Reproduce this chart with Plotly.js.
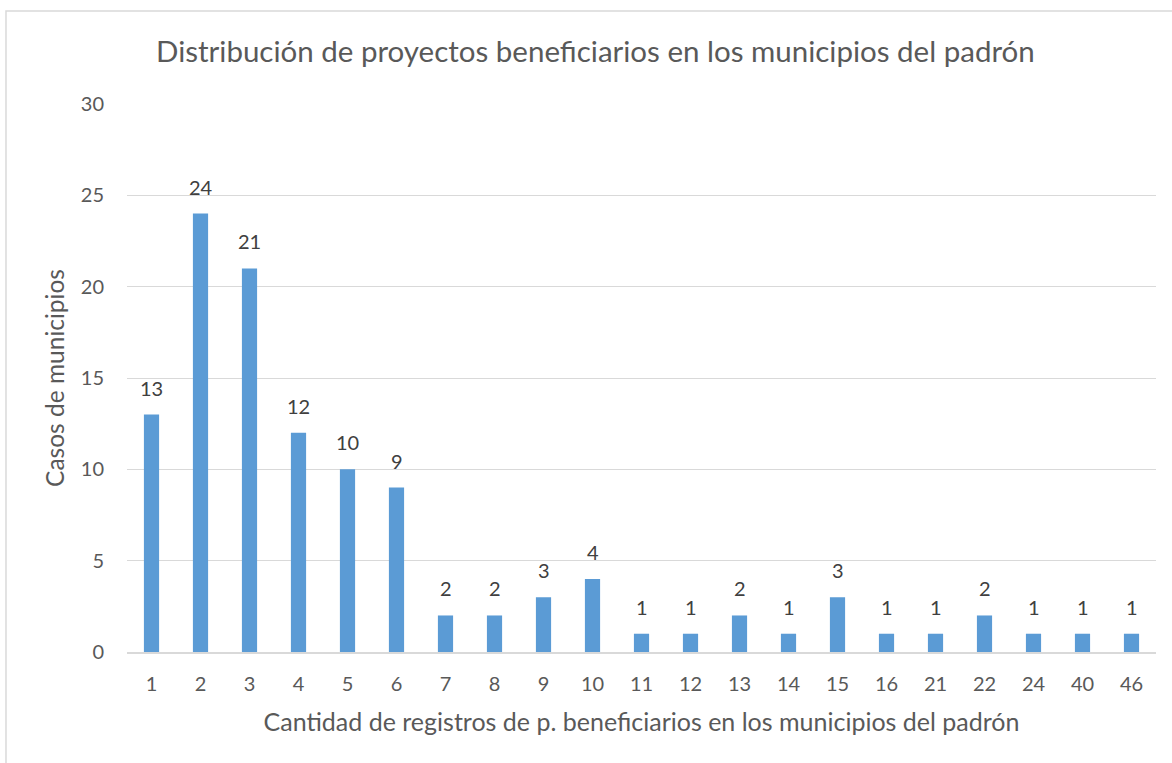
<!DOCTYPE html>
<html>
<head>
<meta charset="utf-8">
<script src="https://cdn.plot.ly/plotly-3.0.1.min.js"></script>
<style>
  html, body { margin: 0; padding: 0; background: #fff; }
  #chart { width: 1172px; height: 763px; }
</style>
</head>
<body>
<div id="chart"></div>
<script>
const registros = ['1', '2', '3', '4', '5', '6', '7', '8', '9', '10', '11', '12', '13', '14', '15', '16', '21', '22', '24', '40', '46'];
const casos = [13, 24, 21, 12, 10, 9, 2, 2, 3, 4, 1, 1, 2, 1, 3, 1, 1, 2, 1, 1, 1];

const FONT = 'Lato, Open Sans, sans-serif';

const trace = {
    x: registros,
    y: casos,
    type: 'bar',
    width: 0.31,
    marker: { color: '#5b9bd5' },
    hoverinfo: 'x+y'
};

// value labels sit a bit higher above the bars than plotly's outside text
// (x given as category index, numeric strings would be read as positions)
const labels = casos.map((v, i) => ({
    x: i,
    y: v,
    xref: 'x',
    yref: 'y',
    text: String(v),
    showarrow: false,
    yanchor: 'middle',
    yshift: 27,
    font: { family: FONT, size: 20, color: '#404040' }
}));

const layout = {
    width: 1172,
    height: 763,
    margin: { l: 127, r: 16, t: 104, b: 111 },
    paper_bgcolor: '#fff',
    plot_bgcolor: '#fff',
    showlegend: false,
    font: { family: FONT, color: '#595959' },
    title: {
        text: 'Distribución de proyectos beneficiarios en los municipios del padrón',
        font: { size: 29.5, color: '#595959' },
        xref: 'container',
        x: 0.508,
        xanchor: 'center',
        yref: 'container',
        y: 0.932,
        yanchor: 'middle'
    },
    xaxis: {
        type: 'category',
        range: [-0.5, registros.length - 0.5],
        showgrid: false,
        showline: true,
        linecolor: '#d9d9d9',
        linewidth: 1.5,
        ticks: '',
        ticklabelstandoff: 13,
        tickfont: { size: 20, color: '#595959' },
        title: {
            text: 'Cantidad de registros de p. beneficiarios en los municipios del padrón',
            font: { size: 25, color: '#595959' },
            standoff: 20
        }
    },
    yaxis: {
        range: [0, 30],
        dtick: 5,
        showgrid: true,
        gridcolor: '#d9d9d9',
        gridwidth: 1,
        zeroline: false,
        showline: false,
        ticks: '',
        ticklabelstandoff: 22,
        tickfont: { size: 20, color: '#595959' },
        title: {
            text: 'Casos de municipios',
            font: { size: 24.5, color: '#595959' },
            standoff: 9
        }
    },
    annotations: labels,
    shapes: [{
        type: 'rect',
        xref: 'paper',
        yref: 'paper',
        x0: -0.1176,
        x1: 1.03,
        y0: -0.25,
        y1: 1.1697,
        line: { color: '#d9d9d9', width: 1.5 },
        fillcolor: 'rgba(0,0,0,0)',
        layer: 'below'
    }]
};

Plotly.newPlot('chart', [trace], layout, {
    displayModeBar: false,
    staticPlot: true
});
</script>
</body>
</html>
